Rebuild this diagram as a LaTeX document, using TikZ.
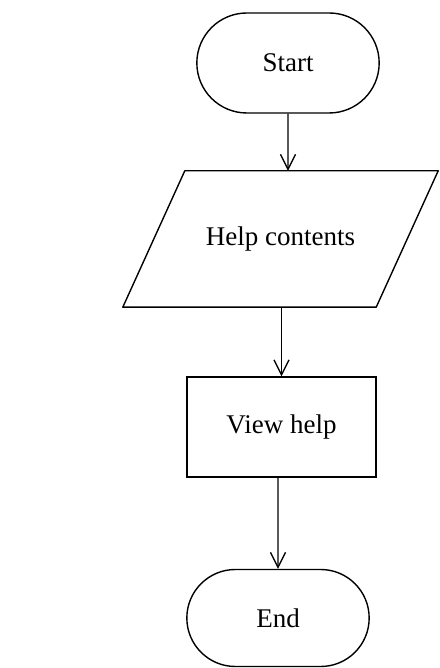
\documentclass[tikz,border=0pt]{standalone}
\usepackage{fontspec}
\setmainfont{Liberation Serif}
\usetikzlibrary{shapes.misc,arrows.meta}

\begin{document}
\begin{tikzpicture}[x=1pt, y=1pt,
    every node/.style={font=\fontsize{27}{31}\selectfont},
    terminal/.style={draw, line width=1.4pt, rounded rectangle, minimum width=189pt, minimum height=100pt},
    iobox/.style={rectangle, minimum width=253pt, minimum height=136pt},
    procbox/.style={draw, line width=1.4pt, rectangle, minimum width=189pt, minimum height=100pt},
    slant/.style={line width=1.4pt, line join=round},
    flow/.style={line width=1.3pt, -{Straight Barb[length=15pt, width=15pt, line width=1.3pt]}}]

  \useasboundingbox (0,0) rectangle (439,668);

  % nodes, top to bottom
  \node[terminal] (start) at (288, 605) {Start};
  \node[iobox] (help) at (280.5, 429) {Help contents};
  \node[procbox] (view) at (281.5, 241) {View help};
  \node[terminal, minimum height=97pt] (end) at (278, 50) {End};

  % parallelogram outline round the input node
  \draw[slant] ([xshift=31pt]help.north west) -- ([xshift=31pt]help.north east)
    -- ([xshift=-31pt]help.south east) -- ([xshift=-31pt]help.south west) -- cycle;

  % connectors
  \draw[flow] (start) -- (start |- help.north);
  \draw[flow] (view |- help.south) -- (view);
  \draw[flow] (end |- view.south) -- (end);

\end{tikzpicture}
\end{document}
